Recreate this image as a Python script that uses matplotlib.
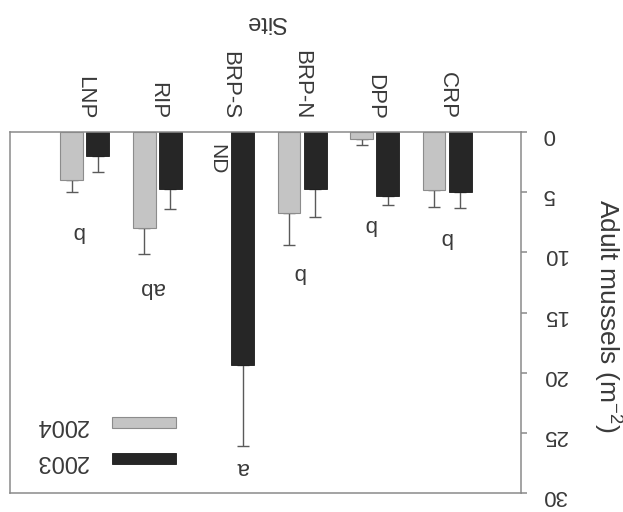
import numpy as np
import matplotlib
matplotlib.use("Agg")
import matplotlib.pyplot as plt

plt.rcParams["font.family"] = ["Liberation Sans", "DejaVu Sans"]
plt.rcParams["mathtext.default"] = "regular"

# Adult mussel density per site, mean and SE (one-sided bars)
sites = ["CRP", "DPP", "BRP-N", "BRP-S", "RIP", "LNP"]
mean_2003 = [5.0, 5.3, 4.7, 19.4, 4.75, 2.0]
err_2003 = [1.3, 0.75, 2.4, 6.7, 1.65, 1.3]
mean_2004 = [4.8, 0.55, 6.7, None, 7.95, 4.0]   # None = not determined
err_2004 = [1.4, 0.5, 2.65, None, 2.15, 1.0]
letters = ["b", "b", "b", "a", "ab", "b"]
letter_x = [1.02, 2.07, 3.05, 3.83, 5.08, 6.10]
letter_y = [8.75, 7.7, 11.7, 27.9, 12.9, 8.3]
yticks = [0, 5, 10, 15, 20, 25, 30]

W, H = 623, 512
fig = plt.figure(figsize=(W / 100, H / 100), dpi=100)
ax = fig.add_axes([10 / W, 1 - 493 / H, 511 / W, 361 / H])

x = np.arange(1, len(sites) + 1)
bw, off = 0.315, 0.18
spine_c = "#8a8a8a"
err_c = "#5a5a5a"
txt_c = "#3a3a3a"

b03 = ax.bar(x - off, mean_2003, bw, color="#262626", edgecolor="#1a1a1a",
             linewidth=0.6, zorder=2)
ax.errorbar(x - off, mean_2003, yerr=[np.zeros(len(x)), err_2003], fmt="none",
            ecolor=err_c, elinewidth=1.0, capsize=4.3, capthick=1.0, zorder=1)

idx = [i for i, v in enumerate(mean_2004) if v is not None]
x04 = np.array([x[i] + off for i in idx])
m04 = [mean_2004[i] for i in idx]
e04 = [err_2004[i] for i in idx]
b04 = ax.bar(x04, m04, bw, color="#c4c4c4", edgecolor="#8c8c8c",
             linewidth=0.8, zorder=2)
ax.errorbar(x04, m04, yerr=[np.zeros(len(idx)), e04], fmt="none",
            ecolor=err_c, elinewidth=1.0, capsize=4.3, capthick=1.0, zorder=1)

for i, v in enumerate(mean_2004):
    if v is None:
        ax.text(x[i] + off, 2.3, "ND", rotation=270, ha="center", va="center",
                fontsize=15, color=txt_c)

for lx, ly, s in zip(letter_x, letter_y, letters):
    ax.text(lx, ly, s, rotation=180, ha="center", va="center",
            fontsize=16, color=txt_c)

ax.set_xlim(7.03, -0.02)
ax.set_ylim(30, 0)

ax.xaxis.tick_top()
ax.set_xticks(x)
ax.set_xticklabels(sites, rotation=270, fontsize=16, color=txt_c)
ax.tick_params(axis="x", length=0, pad=9)

ax.yaxis.tick_right()
ax.set_yticks(yticks)
ax.set_yticklabels([str(t) for t in yticks], rotation=180, fontsize=16,
                   color=txt_c)
ax.tick_params(axis="y", direction="out", length=4, width=1.1,
               color=spine_c, pad=11.5)

for s in ax.spines.values():
    s.set_color(spine_c)
    s.set_linewidth(1.1)

ax.set_xlabel("Site", rotation=180, fontsize=17, color=txt_c,
              ha="center", va="center")
ax.xaxis.set_label_coords(0.5, 1.305)
ax.set_ylabel("Adult mussels (m$^{-2}$)", rotation=270, fontsize=19,
              color=txt_c, ha="center", va="center", rotation_mode="anchor")
ax.yaxis.set_label_coords(1.168, 0.49)

leg = ax.legend([b04, b03], ["2004", "2003"], markerfirst=False, frameon=False,
                loc="lower left", bbox_to_anchor=(0.049, 0.058),
                borderaxespad=0, borderpad=0, fontsize=17,
                handlelength=2.7, handleheight=0.36, handletextpad=1.05,
                labelspacing=0.6)
for t in leg.get_texts():
    t.set_rotation(180)
    t.set_color(txt_c)

fig.savefig("out.png", dpi=100)
